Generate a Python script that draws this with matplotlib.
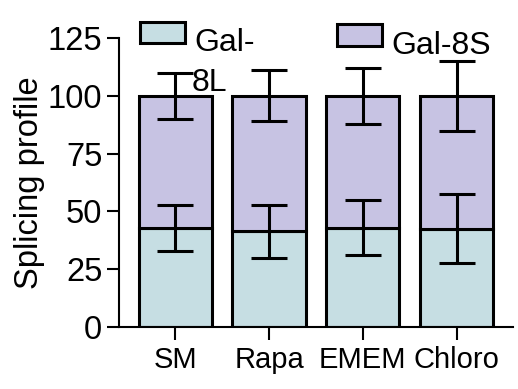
import matplotlib
matplotlib.use("Agg")
import matplotlib.pyplot as plt
from matplotlib.patches import Rectangle
import numpy as np

plt.rcParams['font.family'] = ['Liberation Sans', 'DejaVu Sans']

groups = ["SM", "Rapa", "EMEM", "Chloro"]
gal8l = [43, 41.5, 43, 42.5]
gal8l_err = [10, 11.5, 12, 15]
gal8s = [57, 58.5, 57, 57.5]
gal8s_err = [10, 11, 12, 15]

c_l = "#c6dee3"
c_s = "#c7c3e3"

fig = plt.figure(figsize=(5.18, 3.89), dpi=100)
ax = fig.add_axes([0.2297, 0.1594, 0.7603, 0.7426])

x = np.arange(len(groups))
w = 0.78
ax.bar(x, gal8l, w, color=c_l, edgecolor="black", linewidth=2.2, zorder=2)
ax.bar(x, gal8s, w, bottom=gal8l, color=c_s, edgecolor="black", linewidth=2.2, zorder=2)

tops = np.array(gal8l) + np.array(gal8s)
ax.errorbar(x, gal8l, yerr=gal8l_err, fmt="none", ecolor="black",
            elinewidth=2.2, capsize=13, capthick=2.2, zorder=3)
ax.errorbar(x, tops, yerr=gal8s_err, fmt="none", ecolor="black",
            elinewidth=2.2, capsize=13, capthick=2.2, zorder=3)

ax.set_xlim(-0.6, 3.6)
ax.set_ylim(0, 125)
ax.set_yticks([0, 25, 50, 75, 100, 125])
ax.set_xticks(x)
ax.set_xticklabels(groups)
ax.tick_params(axis="y", labelsize=23.5, width=1.5, length=9, pad=3)
ax.tick_params(axis="x", labelsize=21, width=1.5, length=9, pad=5)
for s in ["top", "right"]:
    ax.spines[s].set_visible(False)
for s in ["left", "bottom"]:
    ax.spines[s].set_linewidth(1.5)
ax.set_ylabel("Splicing profile", fontsize=23.5, labelpad=2)

# legend drawn by hand (first label wraps in the original)
W, H = 518, 389
fig.patches.append(Rectangle((140 / W, 1 - 43 / H), 45 / W, 21 / H, transform=fig.transFigure,
                             facecolor=c_l, edgecolor="black", linewidth=2.2))
fig.patches.append(Rectangle((337 / W, 1 - 46 / H), 45 / W, 22 / H, transform=fig.transFigure,
                             facecolor=c_s, edgecolor="black", linewidth=2.2))
fig.text(194 / W, 1 - 51 / H, "Gal-", fontsize=23, va="baseline")
fig.text(192 / W, 1 - 91 / H, "8L", fontsize=23, va="baseline")
fig.text(391 / W, 1 - 54 / H, "Gal-8S", fontsize=23, va="baseline")

fig.savefig("out.png", dpi=100)
